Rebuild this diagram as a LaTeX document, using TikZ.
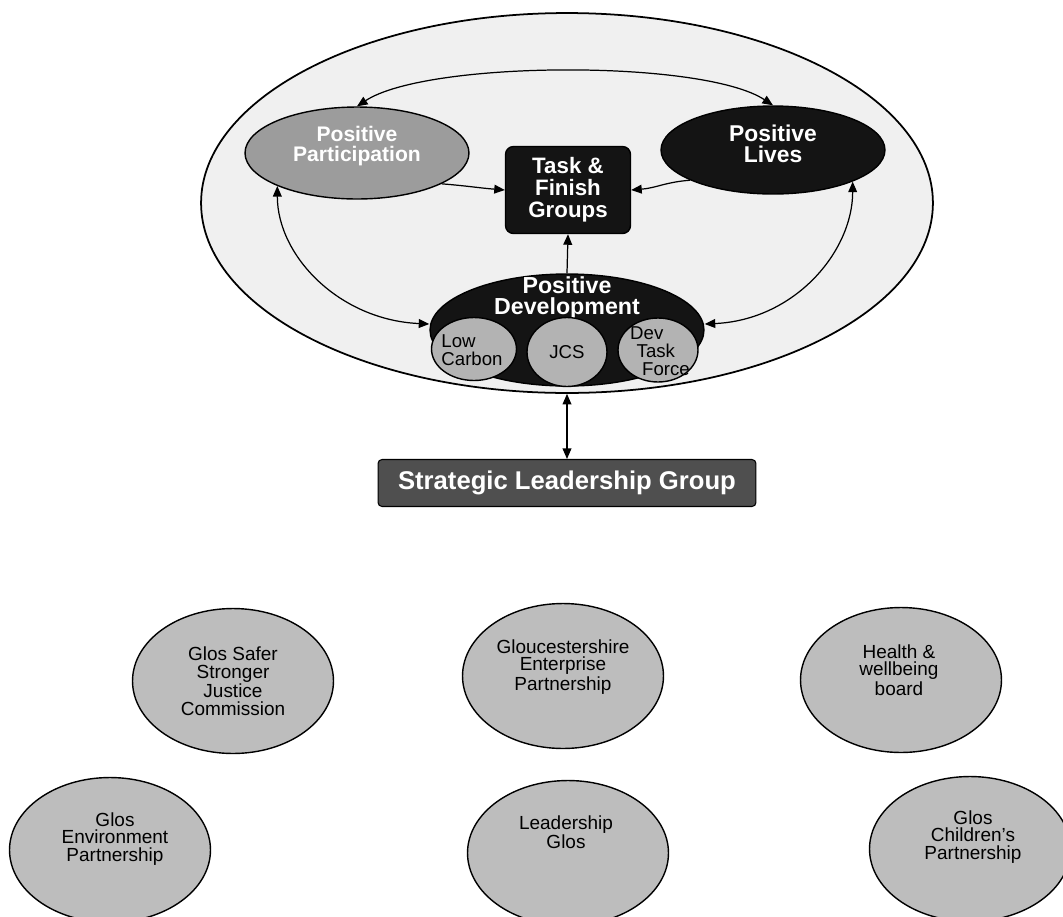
\documentclass[tikz,border=0pt]{standalone}
\usepackage{fontspec}
\setmainfont{Liberation Sans}
\usetikzlibrary{shapes.geometric,arrows.meta}
\definecolor{outerfill}{HTML}{F0F0F0}
\definecolor{ppfill}{HTML}{9C9C9C}
\definecolor{darkfill}{HTML}{141414}
\definecolor{smallfill}{HTML}{B3B3B3}
\definecolor{slgfill}{HTML}{4F4F4F}
\definecolor{bubfill}{HTML}{BDBDBD}
\begin{document}
\begin{tikzpicture}[x=0.02cm,y=-0.02cm,
  ell/.style={ellipse, draw=black, line width=0.8pt, inner sep=0pt},
  wtxt/.style={text=white, align=center, inner sep=0pt},
  btxt/.style={text=black, align=center, inner sep=0pt, font=\fontsize{10.8}{10}\selectfont},
  stxt/.style={text=black, inner sep=0pt, font=\fontsize{10.6}{10.2}\selectfont},
  arr/.style={line width=0.7pt, -{Triangle[length=6pt,width=5pt]}},
  darr/.style={line width=0.7pt, {Triangle[length=6pt,width=5pt]}-{Triangle[length=6pt,width=5pt]}},
  bub/.style={ell, fill=bubfill, minimum width=4.02cm, minimum height=2.9cm}
]
\clip (0,0) rectangle (1063,917);
\fill[white] (0,0) rectangle (1063,917);

% outer ellipse
\node[ell, fill=outerfill, line width=1pt, minimum width=14.64cm, minimum height=7.6cm] (outer) at (567,203) {};

% main shapes
\node[ell, fill=ppfill, minimum width=4.48cm, minimum height=1.84cm] (pp) at (357,153) {};
\node[wtxt, font=\bfseries\fontsize{12}{11.6}\selectfont] (ppt) at (357,146) {Positive\\Participation};

\node[ell, fill=darkfill, minimum width=4.48cm, minimum height=1.76cm] (pl) at (773,150) {};
\node[wtxt, font=\bfseries\fontsize{13}{12}\selectfont] (plt) at (773,144) {Positive\\Lives};

\node[draw=black, line width=0.8pt, fill=darkfill, rounded corners=0.16cm, minimum width=2.5cm, minimum height=1.74cm, text=white, align=center, inner sep=0pt, font=\bfseries\fontsize{12.7}{12.6}\selectfont] (tfg) at (568,190) {Task \&\\Finish\\Groups};

\node[ell, fill=darkfill, minimum width=5.48cm, minimum height=2.24cm] (pd) at (567,330) {};
\node[wtxt, font=\bfseries\fontsize{13.2}{12.4}\selectfont] (pdt) at (567,298) {Positive\\Development};

\node[ell, fill=smallfill, minimum width=1.7cm, minimum height=1.26cm] (lc) at (474,349) {};
\node[stxt, align=left] (lct) at (472,350) {Low\\Carbon};
\node[ell, fill=smallfill, minimum width=1.6cm, minimum height=1.38cm, font=\fontsize{10.6}{10.2}\selectfont] (jcs) at (567,352) {JCS};
\node[ell, fill=smallfill, minimum width=1.6cm, minimum height=1.28cm] (dtf) at (658,350) {};
\node[stxt, align=left] (dtft) at (660,351) {Dev\\\hspace*{0.13cm}Task\\\hspace*{0.24cm}Force};

% strategic leadership group
\node[draw=black, line width=0.6pt, fill=slgfill, rounded corners=0.08cm, minimum width=7.56cm, minimum height=0.94cm, text=white, inner sep=0pt, font=\bfseries\fontsize{14.6}{15}\selectfont] (slg) at (567,483) {Strategic Leadership Group};

% bottom bubbles
\node[bub] (gsc) at (233,681) {};
\node[btxt] (gsct) at (233,681) {Glos Safer\\Stronger\\Justice\\Commission};
\node[bub] (gep) at (563,676) {};
\node[btxt] (gept) at (563,667) {Gloucestershire\\Enterprise\\Partnership};
\node[bub] (hwb) at (901,680) {};
\node[btxt] (hwbt) at (899,670) {Health \&\\wellbeing\\board};
\node[bub] (gen) at (110,850) {};
\node[btxt] (gent) at (115,839) {Glos\\Environment\\Partnership};
\node[bub] (lgl) at (568,853) {};
\node[btxt] (lglt) at (566,832) {Leadership\\Glos};
\node[bub] (gcp) at (970,849) {};
\node[btxt] (gcpt) at (973,837) {Glos\\Children's\\Partnership};

% connectors
\draw[darr] (pp.north) .. controls +(70,-46) and +(-70,-46) .. (pl.north);
\draw[darr] (pp.south west) .. controls +(0,70) and +(-90,-4) .. ([yshift=0.12cm]pd.west);
\draw[darr] (pl.south east) .. controls +(0,70) and +(90,-4) .. ([yshift=0.12cm]pd.east);
\draw[arr] (pp.-20) .. controls +(25,2) and +(-25,-2) .. (tfg.west);
\draw[arr] (pl.200) .. controls +(-25,2) and +(25,-2) .. (tfg.east);
\draw[arr] (pd.north) -- (tfg.south);
\draw[darr] (outer.south) -- (slg.north);
\end{tikzpicture}
\end{document}
